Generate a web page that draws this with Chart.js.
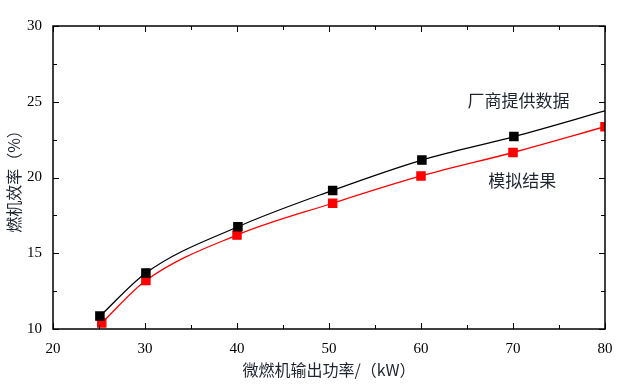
<!DOCTYPE html>
<html>
<head>
<meta charset="utf-8">
<script src="https://cdn.jsdelivr.net/npm/chart.js@4.4.0/dist/chart.umd.min.js"></script>
<style>
	body { margin: 0; background: #fff; }
	#wrap { width: 634px; height: 384px; }
</style>
</head>
<body>
<div id="wrap"><canvas id="effChart" width="634" height="384"></canvas></div>
<script>
// 厂商提供数据
const makerX = [25.1, 30.1, 40.1, 50.4, 60.1, 70.1, 80];
const makerY = [10.85, 13.7, 16.75, 19.15, 21.15, 22.7, 24.4];
// 模拟结果
const simX = [25.3, 30.1, 40.0, 50.4, 60.0, 70.0, 80];
const simY = [10.4, 13.2, 16.2, 18.3, 20.1, 21.65, 23.35];
const xTicks = [20, 30, 40, 50, 60, 70, 80];
const yTicks = [10, 15, 20, 25, 30];

const serif = "'Liberation Serif', 'DejaVu Serif', serif";
const cjk = "'Noto Sans CJK SC', sans-serif";

function pts(xs, ys) {
	return xs.map((x, i) => ({ x: x, y: ys[i] }));
}

// 内向刻度和边框
const frame = {
	id: 'frame',
	afterDraw(chart) {
		const ctx = chart.ctx, a = chart.chartArea;
		const sx = chart.scales.x, sy = chart.scales.y;
		ctx.save();
		ctx.strokeStyle = '#000';
		ctx.lineWidth = 1.5;
		ctx.strokeRect(a.left, a.top, a.right - a.left, a.bottom - a.top);
		ctx.lineWidth = 1;
		ctx.beginPath();
		for (let v = 20; v <= 80; v += 5) {
			let px = Math.round(sx.getPixelForValue(v)) + 0.5;
			let len = v % 10 == 0 ? 6 : 4;
			ctx.moveTo(px, a.bottom); ctx.lineTo(px, a.bottom - len);
			ctx.moveTo(px, a.top); ctx.lineTo(px, a.top + len);
		}
		for (let v = 10; v <= 30; v += 2.5) {
			let py = Math.round(sy.getPixelForValue(v)) + 0.5;
			let len = v % 5 == 0 ? 6 : 4;
			ctx.moveTo(a.left, py); ctx.lineTo(a.left + len, py);
			ctx.moveTo(a.right, py); ctx.lineTo(a.right - len, py);
		}
		ctx.stroke();
		// 标注
		ctx.fillStyle = '#1e2430';
		ctx.font = '17px ' + cjk;
		ctx.textAlign = 'center';
		ctx.textBaseline = 'middle';
		ctx.fillText('厂商提供数据', sx.getPixelForValue(70.6), sy.getPixelForValue(25.1));
		ctx.fillText('模拟结果', sx.getPixelForValue(71), sy.getPixelForValue(19.8));
		ctx.restore();
	}
};

const ctx = document.getElementById('effChart').getContext('2d');
const myChart = new Chart(ctx, {
	type: 'line',
	data: {
		datasets: [
			{
				label: '厂商提供数据',
				data: pts(makerX, makerY),
				borderColor: '#000',
				backgroundColor: '#000',
				borderWidth: 1.3,
				pointStyle: 'rect',
				pointRadius: [5.8, 5.8, 5.8, 5.8, 5.8, 5.8, 0],
				cubicInterpolationMode: 'monotone',
			}, {
				label: '模拟结果',
				data: pts(simX, simY),
				borderColor: '#f00',
				backgroundColor: '#f00',
				borderWidth: 1.3,
				pointStyle: 'rect',
				pointRadius: 5.8,
				cubicInterpolationMode: 'monotone',
			}
		]
	},
	options: {
		responsive: false,
		animation: false,
		clip: { left: 0, right: 0, top: 0, bottom: false },
		layout: { padding: { left: 0, right: 29, top: 26, bottom: 0 } },
		plugins: { legend: { display: false }, tooltip: { enabled: false } },
		scales: {
			x: {
				type: 'linear',
				min: 20, max: 80,
				afterBuildTicks: s => { s.ticks = xTicks.map(v => ({ value: v })); },
				afterFit: s => { s.height = 55; },
				grid: { display: false },
				border: { display: false },
				ticks: { color: '#000', font: { family: serif, size: 15 }, padding: 3, maxRotation: 0 },
				title: { display: true, text: '微燃机输出功率/（kW）', color: '#1e2430', font: { family: cjk, size: 16 }, padding: { top: 0 } }
			},
			y: {
				min: 10, max: 30,
				afterBuildTicks: s => { s.ticks = yTicks.map(v => ({ value: v })); },
				afterFit: s => { s.width = 53; },
				grid: { display: false },
				border: { display: false },
				ticks: { color: '#000', font: { family: serif, size: 15 }, padding: 3 },
				title: { display: true, text: '燃机效率（%）', color: '#1e2430', font: { family: cjk, size: 16 }, padding: { top: 4, bottom: 0 } }
			}
		}
	},
	plugins: [frame]
});
</script>
</body>
</html>
